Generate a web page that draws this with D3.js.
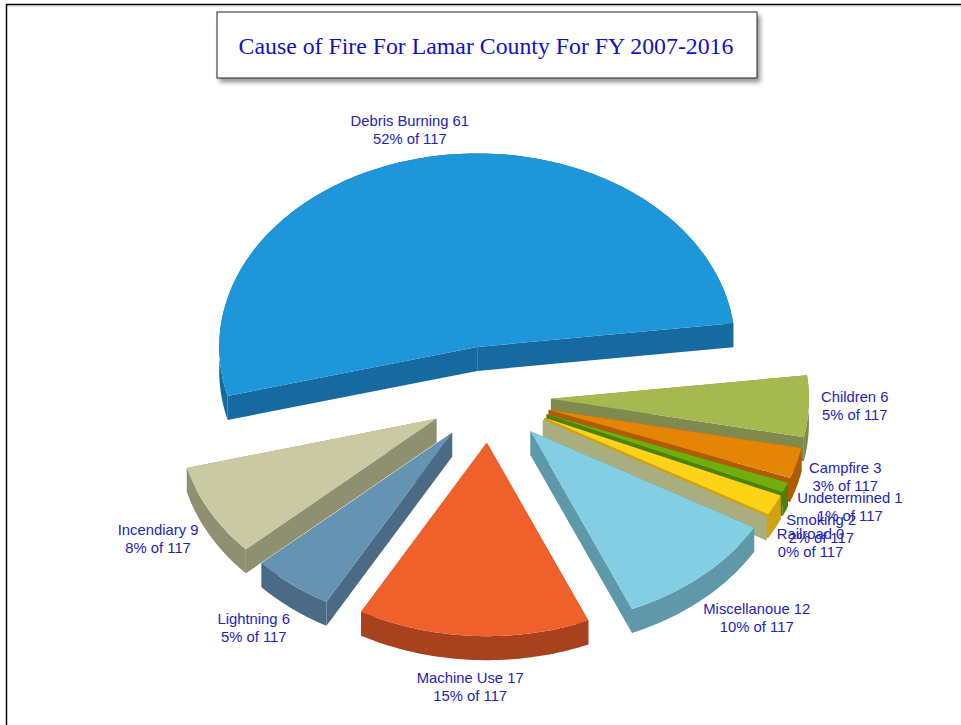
<!DOCTYPE html>
<html>
<head>
<meta charset="utf-8">
<script src="https://cdn.jsdelivr.net/npm/d3@7"></script>
<style>
html, body { margin: 0; padding: 0; background: #fff; }
svg { display: block; }
</style>
</head>
<body>
<svg id="myGraph" width="961" height="725"></svg>
<script>
var categories = ["Debris Burning", "Children", "Campfire", "Undetermined", "Smoking", "Railroad", "Miscellanoue", "Machine Use", "Lightning", "Incendiary"];
var fires = [61, 6, 3, 1, 2, 0, 12, 17, 6, 9];
var topColors = ["#1e96da", "#a6b950", "#e58506", "#70ae0c", "#fdd317", "#c9cba3", "#82cfe3", "#f0602a", "#6593b2", "#c9caa2"];
var wallColors = ["#176a9f", "#808a4c", "#b05c05", "#4e8008", "#cfa214", "#a9ae7e", "#5f98a8", "#a8421e", "#4a6a85", "#8f9070"];
var titleText = "Cause of Fire For Lamar County For FY 2007-2016";

var total = d3.sum(fires);
var svg = d3.select("#myGraph");

var centerX = 490, centerY = 397;
var radius = 258, squash = 0.75;
var explode = 61, debrisExplode = 68, depth = 24;
var labelRadius = 318;
var firstAngle = -104.7 * Math.PI / 180;

// small shifts so the labels sit where the original has them
var labelNudge = {
  "Debris Burning": [-7.5, 17.5], "Children": [-14, -2], "Campfire": [-9, 1], "Undetermined": [9, 2],
  "Smoking": [-7, 4], "Railroad": [-8, 4], "Miscellanoue": [15, 9], "Machine Use": [0, 6],
  "Lightning": [-1, 8], "Incendiary": [1, 6]
};

// frame
svg.append("line").attr("x1", 6).attr("x2", 961).attr("y1", 4.5).attr("y2", 4.5)
  .attr("stroke", "#000").attr("stroke-width", 1.5);
svg.append("line").attr("x1", 6).attr("x2", 961).attr("y1", 6).attr("y2", 6)
  .attr("stroke", "#bbb").attr("stroke-width", 1);
svg.append("line").attr("x1", 6.5).attr("x2", 6.5).attr("y1", 4).attr("y2", 725)
  .attr("stroke", "#000").attr("stroke-width", 1.5);

// title box
var defs = svg.append("defs");
defs.append("filter").attr("id", "boxShadow").attr("x", "-5%").attr("y", "-20%").attr("width", "110%").attr("height", "150%")
  .append("feDropShadow").attr("dx", 3).attr("dy", 4).attr("stdDeviation", 2)
  .attr("flood-color", "#000").attr("flood-opacity", 0.4);
svg.append("rect").attr("x", 217).attr("y", 12).attr("width", 540).attr("height", 66)
  .attr("fill", "#fff").attr("stroke", "#222").attr("stroke-width", 1)
  .attr("filter", "url(#boxShadow)");
svg.append("text").attr("x", 486).attr("y", 54).attr("text-anchor", "middle")
  .attr("font-family", "'Liberation Serif', serif").attr("font-size", 23.8).attr("fill", "#1010cc")
  .text(titleText);

// slices, clockwise from lower left, over the top
var pie = d3.pie().sort(null).startAngle(firstAngle).endAngle(firstAngle + 2 * Math.PI);
var slices = pie(fires);
var line = d3.line();

function mid(d) { return (d.startAngle + d.endAngle) / 2; }
function apexOf(d) {
  var e = d.index === 0 ? debrisExplode : explode;
  return [centerX + e * Math.sin(mid(d)), centerY - e * squash * Math.cos(mid(d))];
}
function onRim(d, a, r) {
  var p = apexOf(d);
  return [p[0] + r * Math.sin(a), p[1] - r * squash * Math.cos(a)];
}
function rim(d) {
  var n = Math.max(2, Math.ceil((d.endAngle - d.startAngle) / 0.02));
  return d3.range(n + 1).map(function (i) {
    return onRim(d, d.startAngle + (d.endAngle - d.startAngle) * i / n, radius);
  });
}
function drop(pts) {
  return pts.map(function (p) { return [p[0], p[1] + depth]; });
}

// Lightning has to lie over the wall of Incendiary
var drawOrder = [0, 1, 2, 3, 4, 5, 6, 9, 8, 7];
var groups = svg.selectAll(".slice").data(drawOrder).enter().append("g").attr("class", "slice");

// walls: both cut edges and the outer rim
groups.append("path")
  .attr("d", function (i) {
    var d = slices[i], r = rim(d), a = apexOf(d);
    return line([a, r[0]].concat(drop([r[0]]), drop([a])));
  })
  .attr("fill", function (i) { return wallColors[i]; });
groups.append("path")
  .attr("d", function (i) {
    var d = slices[i], r = rim(d), a = apexOf(d), last = r[r.length - 1];
    return line([a, last].concat(drop([last]), drop([a])));
  })
  .attr("fill", function (i) { return wallColors[i]; });
groups.append("path")
  .attr("d", function (i) {
    var r = rim(slices[i]);
    return line(r.concat(drop(r).reverse()));
  })
  .attr("fill", function (i) { return wallColors[i]; });
groups.append("path")
  .attr("d", function (i) {
    var d = slices[i];
    return line([apexOf(d)].concat(rim(d))) + "Z";
  })
  .attr("fill", function (i) { return topColors[i]; });

// labels
var labels = svg.selectAll(".sliceLabel").data(slices).enter().append("text")
  .attr("class", "sliceLabel")
  .attr("text-anchor", "middle")
  .attr("font-family", "'Liberation Sans', Arial, sans-serif")
  .attr("font-size", 14.8)
  .attr("fill", "#2323bc")
  .attr("transform", function (d, i) {
    var p = onRim(d, mid(d), labelRadius);
    var n = labelNudge[categories[i]];
    return "translate(" + (p[0] + n[0]) + "," + (p[1] + n[1]) + ")";
  });
labels.append("tspan").attr("x", 0).attr("y", -4)
  .text(function (d, i) { return categories[i] + " " + fires[i]; });
labels.append("tspan").attr("x", 0).attr("y", 14)
  .text(function (d, i) { return Math.round(fires[i] / total * 100) + "% of " + total; });
</script>
</body>
</html>
